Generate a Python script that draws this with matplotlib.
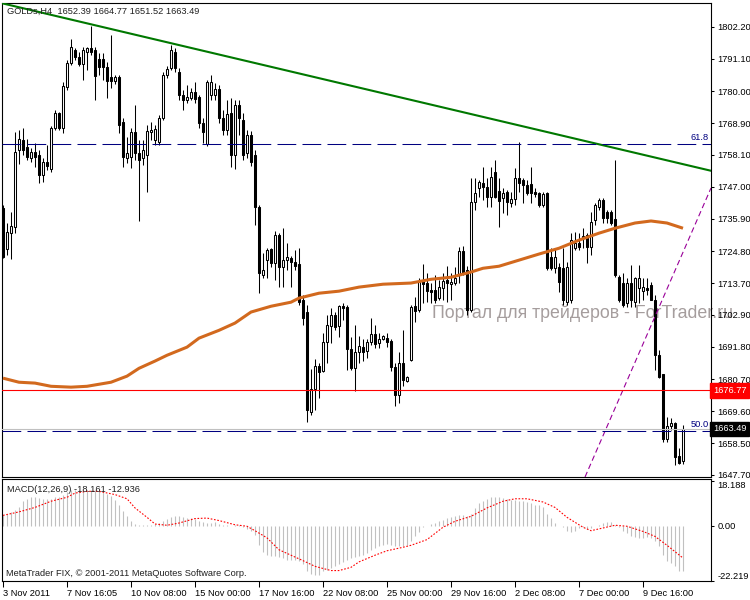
import numpy as np
import matplotlib.pyplot as plt
import matplotlib.transforms as mtransforms

plt.rcParams['font.family'] = ['Liberation Sans', 'DejaVu Sans']

###candles (GOLDs H4), one per bar
opens = [
    1739.6, 1725.5, 1731.0, 1733.1, 1759.6, 1763.1, 1760.7, 1756.9, 1759.0, 1757.9,
    1751.0, 1755.5, 1753.1, 1767.2, 1772.4, 1767.2, 1781.4, 1789.7, 1794.1, 1791.7,
    1789.3, 1793.5, 1794.8, 1794.1, 1791.0, 1791.0, 1788.3, 1784.8, 1783.5, 1784.8,
    1769.3, 1756.9, 1757.2, 1765.9, 1758.6, 1756.9, 1757.9, 1765.9, 1763.1, 1762.4,
    1770.7, 1785.5, 1787.9, 1793.5, 1786.6, 1778.6, 1776.9, 1777.6, 1779.7, 1777.9,
    1769.0, 1761.7, 1778.6, 1778.6, 1780.7, 1770.7, 1766.5, 1772.4, 1757.9, 1775.2,
    1770.0, 1758.6, 1764.8, 1757.9, 1740.0, 1716.5, 1721.7, 1725.5, 1720.7, 1730.3,
    1719.3, 1721.7, 1722.4, 1721.0, 1720.3, 1707.9, 1703.8, 1669.3, 1677.2, 1685.1,
    1683.4, 1693.4, 1698.9, 1702.7, 1698.9, 1705.8, 1705.5, 1691.0, 1684.4, 1690.0,
    1691.7, 1690.3, 1693.4, 1696.2, 1693.1, 1694.4, 1694.8, 1693.8, 1684.8, 1675.1,
    1686.2, 1680.0, 1687.2, 1705.8, 1704.4, 1714.5, 1713.8, 1711.3, 1711.3, 1708.6,
    1712.0, 1714.8, 1713.4, 1713.8, 1716.5, 1724.8, 1718.2, 1704.4, 1741.7, 1746.5,
    1748.3, 1746.9, 1743.4, 1752.1, 1745.5, 1743.1, 1745.2, 1741.4, 1742.7, 1750.0,
    1749.3, 1747.6, 1748.0, 1745.2, 1744.8, 1740.7, 1744.8, 1722.7, 1718.9, 1719.3,
    1718.9, 1707.2, 1707.9, 1725.8, 1727.6, 1729.3, 1730.3, 1726.2, 1735.5, 1740.0,
    1742.4, 1738.3, 1738.3, 1735.8, 1715.8, 1713.8, 1706.9, 1713.8, 1707.2, 1712.0,
    1711.0, 1712.0, 1713.1, 1708.0, 1689.0, 1682.3, 1660.0, 1664.4, 1665.5, 1654.0,
    1652.39]
highs = [
    1740.7, 1734.5, 1738.3, 1765.9, 1766.5, 1767.2, 1763.4, 1760.3, 1762.1, 1759.6,
    1756.9, 1761.4, 1768.0, 1773.4, 1772.8, 1783.1, 1790.7, 1797.9, 1794.8, 1793.5,
    1795.2, 1795.2, 1802.4, 1795.2, 1793.1, 1793.1, 1790.0, 1799.3, 1785.5, 1785.5,
    1770.7, 1764.1, 1767.2, 1775.2, 1763.1, 1763.1, 1768.3, 1769.3, 1768.3, 1771.7,
    1786.6, 1788.6, 1795.9, 1794.8, 1787.9, 1780.3, 1782.1, 1781.0, 1783.1, 1778.6,
    1770.7, 1783.8, 1785.5, 1782.8, 1782.1, 1773.4, 1776.9, 1777.6, 1776.9, 1776.9,
    1772.4, 1766.5, 1766.2, 1759.6, 1740.7, 1724.1, 1725.8, 1725.8, 1731.7, 1731.0,
    1732.7, 1727.6, 1723.1, 1725.1, 1725.8, 1709.6, 1706.2, 1684.1, 1687.5, 1686.2,
    1696.5, 1702.7, 1705.1, 1703.8, 1706.2, 1706.9, 1706.2, 1695.1, 1699.3, 1695.5,
    1694.4, 1694.4, 1701.7, 1699.3, 1696.5, 1695.8, 1696.5, 1694.4, 1686.2, 1690.0,
    1697.5, 1681.7, 1706.2, 1709.0, 1715.5, 1720.3, 1717.2, 1713.8, 1716.5, 1714.8,
    1717.2, 1719.6, 1717.2, 1719.3, 1726.2, 1726.5, 1719.6, 1750.0, 1750.0, 1749.3,
    1753.8, 1750.0, 1753.8, 1756.2, 1750.0, 1746.5, 1745.9, 1745.2, 1753.4, 1762.4,
    1750.0, 1749.3, 1753.8, 1746.5, 1745.2, 1745.2, 1745.2, 1725.8, 1725.8, 1720.7,
    1725.8, 1721.0, 1731.0, 1731.4, 1731.0, 1732.7, 1731.0, 1738.3, 1741.4, 1743.0,
    1743.1, 1739.0, 1739.0, 1756.2, 1716.5, 1717.2, 1715.5, 1720.0, 1715.8, 1720.0,
    1715.5, 1715.5, 1714.1, 1709.6, 1690.7, 1682.6, 1667.5, 1667.2, 1665.8, 1656.8,
    1664.77]
lows = [
    1722.4, 1723.4, 1722.0, 1731.0, 1754.8, 1757.9, 1756.2, 1755.5, 1753.8, 1748.3,
    1748.6, 1752.7, 1752.1, 1766.5, 1766.5, 1765.5, 1780.3, 1789.0, 1790.7, 1788.6,
    1783.8, 1787.2, 1792.4, 1776.9, 1785.5, 1783.8, 1777.6, 1781.0, 1782.4, 1765.5,
    1753.8, 1755.2, 1753.4, 1756.2, 1735.2, 1754.5, 1745.2, 1763.1, 1761.4, 1761.4,
    1770.0, 1784.5, 1787.2, 1786.6, 1776.9, 1773.4, 1775.9, 1776.9, 1775.9, 1767.2,
    1762.1, 1761.0, 1776.9, 1776.9, 1769.0, 1764.8, 1764.8, 1753.8, 1753.1, 1764.8,
    1756.2, 1756.9, 1754.1, 1733.8, 1710.3, 1715.5, 1715.5, 1719.3, 1714.8, 1712.4,
    1712.4, 1718.2, 1712.4, 1718.2, 1706.2, 1699.3, 1665.8, 1668.2, 1669.9, 1674.1,
    1683.1, 1686.2, 1693.1, 1697.5, 1695.1, 1701.0, 1683.7, 1683.7, 1676.5, 1686.2,
    1686.9, 1687.9, 1692.4, 1691.3, 1691.3, 1694.1, 1691.7, 1683.4, 1671.3, 1672.4,
    1678.2, 1679.6, 1686.9, 1700.3, 1703.8, 1706.9, 1707.2, 1706.9, 1706.9, 1707.9,
    1707.9, 1707.2, 1707.9, 1713.1, 1713.8, 1716.5, 1702.7, 1703.8, 1739.0, 1743.4,
    1742.4, 1740.0, 1740.0, 1743.1, 1733.1, 1737.9, 1737.2, 1740.0, 1740.7, 1745.2,
    1741.4, 1744.1, 1741.4, 1743.4, 1740.0, 1740.0, 1718.2, 1718.2, 1717.2, 1710.7,
    1706.2, 1706.2, 1706.9, 1725.1, 1725.1, 1725.8, 1720.7, 1723.4, 1733.8, 1739.0,
    1734.5, 1734.5, 1733.8, 1715.8, 1707.2, 1705.5, 1705.5, 1705.5, 1705.5, 1706.9,
    1708.0, 1709.6, 1707.9, 1683.7, 1681.0, 1658.9, 1658.9, 1663.0, 1651.0, 1651.5,
    1651.52]
closes = [
    1722.7, 1731.4, 1733.4, 1759.0, 1763.4, 1759.6, 1757.2, 1759.0, 1757.2, 1751.0,
    1755.5, 1754.1, 1767.2, 1772.4, 1767.2, 1781.7, 1789.7, 1795.2, 1791.7, 1789.3,
    1794.1, 1794.8, 1793.5, 1785.2, 1788.3, 1788.3, 1783.5, 1783.5, 1784.8, 1768.3,
    1757.2, 1758.6, 1765.9, 1758.6, 1756.2, 1759.6, 1766.2, 1766.5, 1766.9, 1770.7,
    1785.5, 1787.6, 1794.1, 1787.9, 1778.6, 1776.9, 1777.9, 1779.7, 1777.2, 1769.0,
    1765.9, 1783.1, 1783.1, 1780.7, 1770.7, 1766.5, 1772.1, 1757.9, 1775.2, 1770.7,
    1757.9, 1764.8, 1755.5, 1740.0, 1717.2, 1718.2, 1725.1, 1720.7, 1730.3, 1719.3,
    1721.7, 1722.7, 1721.0, 1719.6, 1707.2, 1701.7, 1669.9, 1677.2, 1685.1, 1683.1,
    1693.4, 1699.3, 1702.7, 1698.6, 1705.8, 1705.1, 1691.0, 1684.4, 1690.0, 1692.0,
    1690.0, 1693.4, 1696.2, 1692.7, 1694.4, 1695.5, 1693.4, 1684.8, 1675.1, 1686.2,
    1680.3, 1681.3, 1705.5, 1704.1, 1714.1, 1713.4, 1711.0, 1710.7, 1707.9, 1712.4,
    1714.5, 1713.8, 1714.1, 1715.5, 1724.8, 1717.2, 1704.4, 1741.7, 1744.8, 1748.6,
    1746.9, 1743.4, 1750.3, 1743.4, 1742.0, 1744.8, 1741.7, 1742.7, 1750.0, 1748.3,
    1747.6, 1744.8, 1744.8, 1744.5, 1740.7, 1744.5, 1718.9, 1718.9, 1722.7, 1714.1,
    1707.9, 1719.3, 1728.6, 1727.6, 1726.2, 1730.0, 1726.2, 1734.8, 1740.7, 1742.4,
    1736.2, 1736.2, 1734.5, 1716.5, 1707.9, 1706.2, 1713.8, 1707.9, 1715.5, 1715.5,
    1712.4, 1711.3, 1708.0, 1689.0, 1681.3, 1660.0, 1664.4, 1665.4, 1653.7, 1651.9,
    1663.49]

###moving average (sampled along the orange curve)
ma_bar = [0, 4, 8, 12, 17, 21, 27, 31, 34, 38, 41, 46, 49, 54, 58, 62, 67, 72, 74, 79,
          84, 89, 95, 102, 107, 112, 117, 120, 124, 129, 134, 139, 144, 149, 153, 158, 162, 166, 170]
ma_val = [1681.0, 1679.6, 1679.3, 1678.2, 1677.9, 1678.2, 1679.6, 1681.7, 1684.4, 1686.9,
          1688.9, 1691.7, 1694.8, 1697.5, 1700.0, 1703.8, 1705.8, 1707.2, 1708.6, 1710.3,
          1711.0, 1712.4, 1713.4, 1713.8, 1715.1, 1715.8, 1717.6, 1718.9, 1719.6, 1721.7,
          1723.8, 1725.8, 1728.6, 1731.0, 1732.7, 1734.5, 1735.2, 1734.5, 1732.7]

###MACD(12,26,9): histogram per bar, signal sampled
macd_main = [
    4.6, 4.8, 5.7, 6.6, 7.5, 10.2, 11.0, 11.6, 11.6, 11.3,
    11.0, 11.0, 11.0, 11.6, 11.6, 12.7, 13.7, 14.7, 14.7, 14.7,
    14.7, 14.7, 14.7, 14.7, 14.3, 13.7, 12.9, 12.0, 10.6, 8.6,
    5.9, 3.9, 1.9, 0.8, 0.3, 0.3, 0.3, 0.5, 0.8, 1.2,
    1.9, 3.0, 3.6, 4.2, 3.9, 3.5, 3.2, 3.2, 3.0, 2.2,
    1.6, 1.2, 1.2, 1.5, 0.8, 0.3, 0.3, 0.1, 0.5, 0.3,
    -0.5, -1.1, -1.9, -3.8, -7.5, -10.5, -11.6, -12.2, -12.2, -12.7,
    -12.9, -13.6, -13.6, -13.6, -14.0, -15.3, -18.3, -19.4, -19.9, -19.6,
    -18.3, -17.6, -17.0, -16.3, -15.3, -14.5, -13.6, -12.9, -12.7, -12.2,
    -11.8, -10.9, -9.6, -8.9, -8.2, -7.5, -7.3, -7.5, -8.2, -8.2,
    -8.2, -7.8, -6.2, -4.2, -2.4, -0.5, -0.1, 0.8, 1.2, 1.9,
    2.6, 3.2, 3.5, 3.9, 4.6, 4.6, 3.9, 4.8, 7.3, 9.3,
    10.2, 11.0, 11.6, 11.6, 11.6, 11.3, 11.0, 10.6, 10.6, 10.2,
    10.0, 9.7, 9.3, 8.6, 8.3, 7.5, 4.8, 3.2, 1.2, -0.1,
    -0.5, -2.2, -2.4, -1.9, -0.8, -0.5, -1.1, -0.8, -0.1, 0.5,
    1.2, 1.6, 1.6, 0.5, -0.5, -2.2, -2.8, -4.2, -4.6, -4.8,
    -4.8, -4.6, -4.8, -6.2, -8.2, -11.6, -14.0, -14.9, -16.3, -18.0,
    -18.161]
sig_bar = [0, 4, 8, 12, 16, 18, 21, 24, 28, 31, 33, 36, 38, 41, 44, 48, 51, 54, 58, 61,
           63, 66, 69, 72, 75, 78, 82, 84, 87, 89, 93, 96, 100, 102, 106, 110, 113, 117, 121, 125,
           128, 131, 135, 138, 141, 145, 147, 150, 153, 156, 160, 163, 166, 170]
sig_val = [4.3, 5.7, 7.5, 10.0, 11.6, 13.3, 14.0, 14.0, 12.7, 11.0,
           7.3, 3.5, 0.8, 0.3, 1.2, 3.0, 3.2, 2.2, 0.5, -0.1,
           -1.9, -4.8, -9.6, -11.8, -14.0, -16.3, -18.0, -18.0, -16.7, -14.5,
           -11.8, -10.0, -8.6, -7.8, -5.5, -0.5, 1.9, 3.9, 7.3, 10.0,
           11.0, 11.0, 9.7, 7.5, 3.5, -0.5, -1.9, -0.8, 0.3, -0.1,
           -2.2, -4.2, -7.8, -12.936]
macd_max = 18.188
macd_min = -22.219

###objects on the chart
fib_levels = [1761.75, 1662.8]
fib_names = ['61.8', '50.0']
red_level = 1676.77
green_pts = [(0, 1810.2), (170, 1754.8)]
purple_pts = [(145.5, 1646.9), (176.25, 1744.2)]

###axis labels
price_ticks = [1802.20, 1791.10, 1780.00, 1768.90, 1758.10, 1747.00, 1735.90, 1724.80,
               1713.70, 1702.90, 1691.80, 1680.70, 1669.60, 1658.50, 1647.70]
date_bars = [0, 16, 32, 48, 64, 80, 96, 112, 128, 144, 160]
date_labels = ['3 Nov 2011', '7 Nov 16:05', '10 Nov 08:00', '15 Nov 00:00', '17 Nov 16:00',
               '22 Nov 08:00', '25 Nov 00:00', '29 Nov 16:00', '2 Dec 08:00', '7 Dec 00:00',
               '9 Dec 16:00']

W, H = 750, 600
fs = 6.7
fig = plt.figure(figsize=(7.5, 6), dpi=100)
ax = fig.add_axes([2/W, 1-477/H, 709/W, 474/H])
ax2 = fig.add_axes([2/W, 1-581/H, 709/W, 102/H])

for a in (ax, ax2):
    a.set_xlim(-0.25, 177)
    a.yaxis.tick_right()
    for s in a.spines.values():
        s.set_linewidth(0.8)
        s.set_color('black')
    a.tick_params(axis='y', length=2.5, width=0.75, pad=2, labelsize=fs)

###candles
o = np.array(opens); h = np.array(highs); l = np.array(lows); c = np.array(closes)
idx = np.arange(len(c))
up = c >= o
body = np.maximum(np.abs(c - o), 0.3)
ax.vlines(idx, l, h, color='black', lw=0.75, zorder=3)
ax.bar(idx[up], body[up], bottom=o[up], width=0.5, facecolor='white', edgecolor='black', linewidth=0.75, zorder=4)
ax.bar(idx[~up], body[~up], bottom=c[~up], width=0.5, facecolor='black', edgecolor='black', linewidth=0.75, zorder=4)

###indicator and objects
ax.plot(ma_bar, ma_val, color='#D2691E', lw=2.2, solid_capstyle='butt', solid_joinstyle='round', zorder=5)
ax.axline(green_pts[0], green_pts[1], color='#007800', lw=1.5, zorder=6)
ax.axline(purple_pts[0], purple_pts[1], color='#990099', lw=0.8, dashes=(5, 3), zorder=6)
ax.axhline(red_level, color='red', lw=0.8, zorder=6)
ax.axhline(closes[-1], color='#C0C0C0', lw=0.8, zorder=6)
trans = mtransforms.blended_transform_factory(ax.transAxes, ax.transData)
for lev, name in zip(fib_levels, fib_names):
    ax.axhline(lev, color='#000080', lw=0.75, dashes=(18, 6), zorder=6)
    ax.text(0.997, lev + 0.6, name, transform=trans, ha='right', va='bottom', color='#000080', fontsize=fs)

ax.set_ylim(1646.92, 1810.37)
ax.set_xticks([])
ax.set_yticks(price_ticks)
ax.set_yticklabels(['%.2f' % p for p in price_ticks])
ax.text(1.003, red_level, '%.2f' % red_level, transform=trans, ha='left', va='center', color='white',
        fontsize=fs, clip_on=False, zorder=10, bbox=dict(boxstyle='square,pad=0.3', fc='red', ec='red'))
ax.text(1.003, closes[-1], '%.2f' % closes[-1], transform=trans, ha='left', va='center', color='white',
        fontsize=fs, clip_on=False, zorder=10, bbox=dict(boxstyle='square,pad=0.3', fc='black', ec='black'))

ax.text(432/W, 1-313/H, 'Портал для трейдеров - ForTrader.ru', transform=fig.transFigure,
        fontsize=12.8, color='#A59D9D', ha='left', va='center', zorder=1, clip_on=False)
fig.text(7/W, 1-11/H, 'GOLDs,H4  %.2f %.2f %.2f %.2f' % (opens[-1], highs[-1], lows[-1], closes[-1]),
         fontsize=fs, ha='left', va='center', color='#202020')

###MACD window
ax2.vlines(np.arange(len(macd_main)), 0, macd_main, color='#C0C0C0', lw=0.8)
ax2.plot(sig_bar, sig_val, color='red', lw=0.8, linestyle=(0, (1.5, 1.5)))
ax2.set_ylim(macd_min, macd_max + 0.8)
ax2.set_yticks([macd_max, 0, macd_min])
ax2.set_yticklabels(['%.3f' % macd_max, '0.00', '%.3f' % macd_min])
for lab, va in zip(ax2.get_yticklabels(), ['top', 'center', 'bottom']):
    lab.set_va(va)
ax2.set_xticks(date_bars)
ax2.set_xticklabels(date_labels, ha='left', fontsize=fs)
ax2.tick_params(axis='x', length=4, width=0.75, pad=2)
fig.text(7/W, 1-489/H, 'MACD(12,26,9) %.3f %.3f' % (macd_main[-1], sig_val[-1]), fontsize=fs,
         ha='left', va='center', color='#202020')
fig.text(6/W, 1-574/H, 'MetaTrader FIX, © 2001-2011 MetaQuotes Software Corp.', fontsize=fs,
         ha='left', va='center', color='#202020')

fig.savefig('out.png', dpi=100)
